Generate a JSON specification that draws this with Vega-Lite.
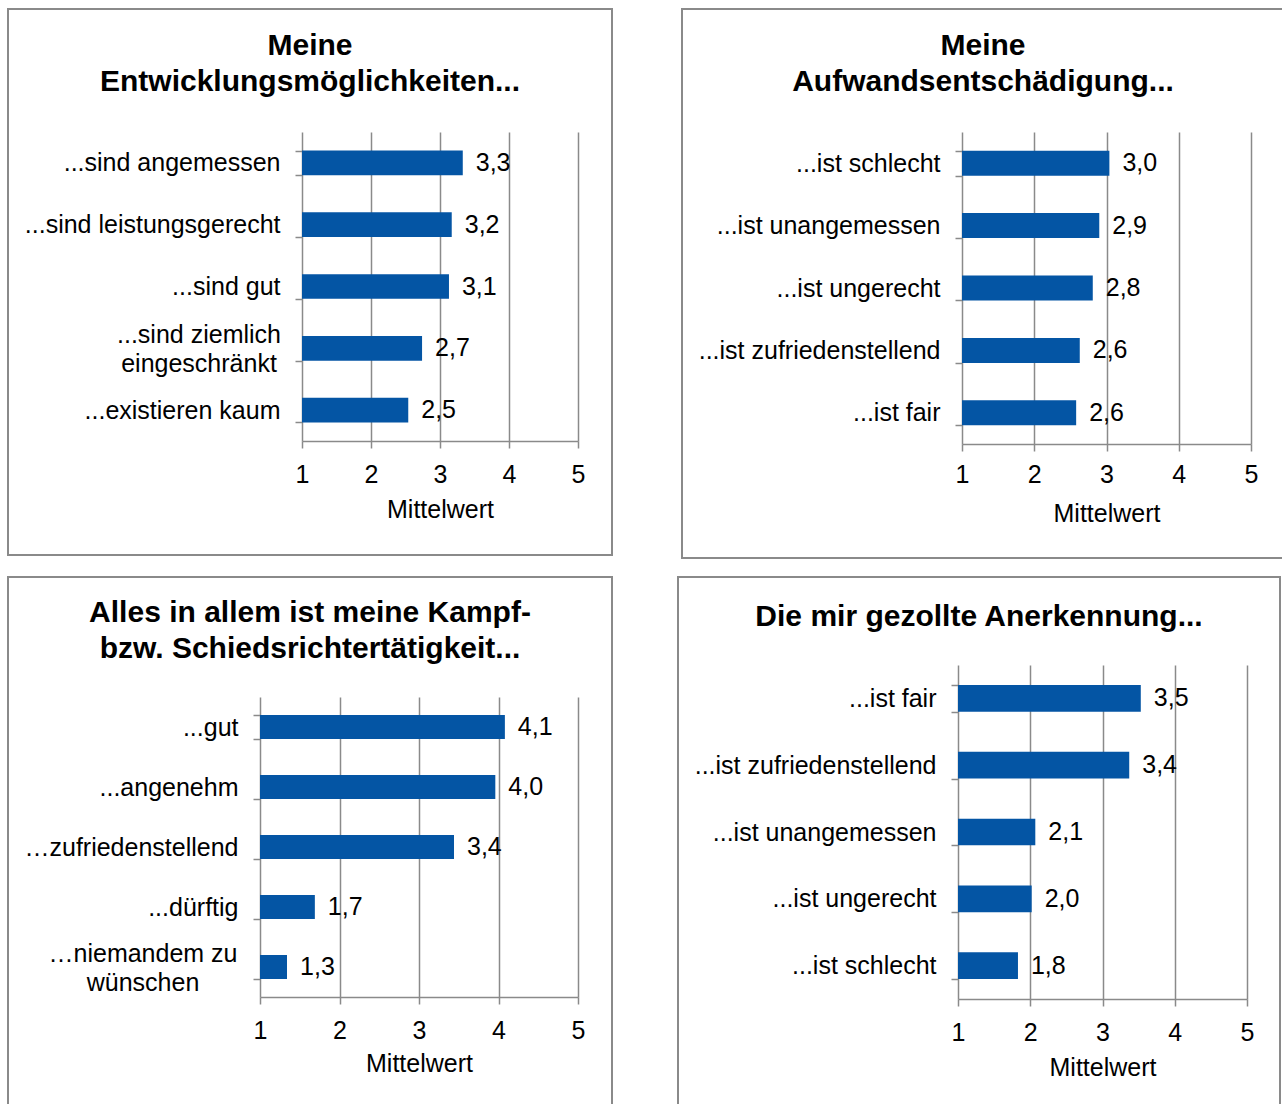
{
  "$schema": "https://vega.github.io/schema/vega-lite/v6.json",
  "padding": {"left": 7, "top": -4, "right": 0, "bottom": 0},
  "datasets": {
    "tl": [
      {"k": "...sind angemessen", "v": 3.33},
      {"k": "...sind leistungsgerecht", "v": 3.17},
      {"k": "...sind gut", "v": 3.13},
      {"k": "...sind ziemlich|eingeschränkt", "v": 2.74},
      {"k": "...existieren kaum", "v": 2.54}
    ],
    "tr": [
      {"k": "...ist schlecht", "v": 3.04},
      {"k": "...ist unangemessen", "v": 2.9},
      {"k": "...ist ungerecht", "v": 2.81},
      {"k": "...ist zufriedenstellend", "v": 2.63},
      {"k": "...ist fair", "v": 2.58}
    ],
    "bl": [
      {"k": "...gut", "v": 4.08},
      {"k": "...angenehm", "v": 3.96},
      {"k": "…zufriedenstellend", "v": 3.44},
      {"k": "...dürftig", "v": 1.69},
      {"k": "…niemandem zu|wünschen", "v": 1.34}
    ],
    "br": [
      {"k": "...ist fair", "v": 3.53},
      {"k": "...ist zufriedenstellend", "v": 3.37},
      {"k": "...ist unangemessen", "v": 2.07},
      {"k": "...ist ungerecht", "v": 2.02},
      {"k": "...ist schlecht", "v": 1.83}
    ]
  },
  "spacing": 5,
  "vconcat": [
    {
      "spacing": 68,
      "hconcat": [
        {
          "width": 604, "height": 546,
          "title": {"text": ["Meine", "Entwicklungsmöglichkeiten..."], "offset": -100},
          "data": {"name": "tl"},
          "encoding": {
            "y": {"field": "k", "type": "nominal", "sort": null,
              "scale": {"range": [123, 432], "paddingInner": 0.6, "paddingOuter": 0.3},
              "axis": {"title": null, "offset": -294, "tickBand": "extent", "labelLimit": 0,
                "labelExpr": "indexof(datum.label, '|') >= 0 ? '' : datum.label", "labelPadding": 15}}
          },
          "layer": [
            {"mark": "bar", "encoding": {
              "x": {"field": "v", "type": "quantitative",
                "scale": {"domain": [1, 5], "range": [294, 570], "nice": false, "zero": false},
                "axis": {"values": [1, 2, 3, 4, 5], "format": "d", "grid": false, "offset": -114, "labelPadding": 14, "labelFlush": false, "title": "Mittelwert", "titlePadding": 10}},
              "x2": {"datum": 1}}},
            {"mark": {"type": "text", "align": "left", "baseline": "middle", "dx": 13}, "encoding": {
              "x": {"field": "v", "type": "quantitative",
                "axis": {"orient": "top", "values": [2, 3, 4, 5], "grid": true, "labels": false, "ticks": false, "domain": false, "title": null}},
              "text": {"field": "v", "type": "quantitative", "format": ".1f"}}},
            {"transform": [{"filter": "indexof(datum.k, '|') >= 0"}],
             "mark": {"type": "text", "align": "center", "baseline": "line-bottom", "lineBreak": "|", "lineHeight": 29, "dx": -103, "dy": 2},
             "encoding": {"x": {"datum": 1, "type": "quantitative", "axis": null}, "text": {"field": "k", "type": "nominal"}}}
          ],
          "resolve": {"axis": {"x": "independent"}}
        },
        {
          "width": 602, "height": 549,
          "title": {"text": ["Meine", "Aufwandsentschädigung..."], "offset": -100},
          "data": {"name": "tr"},
          "encoding": {
            "y": {"field": "k", "type": "nominal", "sort": null,
              "scale": {"range": [123, 435], "paddingInner": 0.6, "paddingOuter": 0.3},
              "axis": {"title": null, "offset": -280, "tickBand": "extent", "labelLimit": 0, "labelPadding": 15}}
          },
          "layer": [
            {"mark": "bar", "encoding": {
              "x": {"field": "v", "type": "quantitative",
                "scale": {"domain": [1, 5], "range": [280, 569], "nice": false, "zero": false},
                "axis": {"values": [1, 2, 3, 4, 5], "format": "d", "grid": false, "offset": -114, "labelPadding": 11, "labelFlush": false, "title": "Mittelwert", "titlePadding": 14}},
              "x2": {"datum": 1}}},
            {"mark": {"type": "text", "align": "left", "baseline": "middle", "dx": 13}, "encoding": {
              "x": {"field": "v", "type": "quantitative",
                "axis": {"orient": "top", "values": [2, 3, 4, 5], "grid": true, "labels": false, "ticks": false, "domain": false, "title": null}},
              "text": {"field": "v", "type": "quantitative", "format": ".1f"}}}
          ],
          "resolve": {"axis": {"x": "independent"}}
        }
      ]
    },
    {
      "spacing": 64,
      "hconcat": [
        {
          "width": 604, "height": 529,
          "title": {"text": ["Alles in allem ist meine Kampf-", "bzw. Schiedsrichtertätigkeit..."], "offset": -99},
          "data": {"name": "bl"},
          "encoding": {
            "y": {"field": "k", "type": "nominal", "sort": null,
              "scale": {"range": [120, 420], "paddingInner": 0.6, "paddingOuter": 0.3},
              "axis": {"title": null, "offset": -252, "tickBand": "extent", "labelLimit": 0,
                "labelExpr": "indexof(datum.label, '|') >= 0 ? '' : datum.label", "labelPadding": 15}}
          },
          "layer": [
            {"mark": "bar", "encoding": {
              "x": {"field": "v", "type": "quantitative",
                "scale": {"domain": [1, 5], "range": [252, 570], "nice": false, "zero": false},
                "axis": {"values": [1, 2, 3, 4, 5], "format": "d", "grid": false, "offset": -109, "labelPadding": 14, "labelFlush": false, "title": "Mittelwert", "titlePadding": 8}},
              "x2": {"datum": 1}}},
            {"mark": {"type": "text", "align": "left", "baseline": "middle", "dx": 13}, "encoding": {
              "x": {"field": "v", "type": "quantitative",
                "axis": {"orient": "top", "values": [2, 3, 4, 5], "grid": true, "labels": false, "ticks": false, "domain": false, "title": null}},
              "text": {"field": "v", "type": "quantitative", "format": ".1f"}}},
            {"transform": [{"filter": "indexof(datum.k, '|') >= 0"}],
             "mark": {"type": "text", "align": "center", "baseline": "line-bottom", "lineBreak": "|", "lineHeight": 29, "dx": -117, "dy": 2},
             "encoding": {"x": {"datum": 1, "type": "quantitative", "axis": null}, "text": {"field": "k", "type": "nominal"}}}
          ],
          "resolve": {"axis": {"x": "independent"}}
        },
        {
          "width": 602, "height": 529,
          "title": {"text": "Die mir gezollte Anerkennung...", "offset": -67},
          "data": {"name": "br"},
          "encoding": {
            "y": {"field": "k", "type": "nominal", "sort": null,
              "scale": {"range": [88, 422], "paddingInner": 0.6, "paddingOuter": 0.3},
              "axis": {"title": null, "offset": -280, "tickBand": "extent", "labelLimit": 0, "labelPadding": 15}}
          },
          "layer": [
            {"mark": "bar", "encoding": {
              "x": {"field": "v", "type": "quantitative",
                "scale": {"domain": [1, 5], "range": [280, 569], "nice": false, "zero": false},
                "axis": {"values": [1, 2, 3, 4, 5], "format": "d", "grid": false, "offset": -107, "labelPadding": 14, "labelFlush": false, "title": "Mittelwert", "titlePadding": 10}},
              "x2": {"datum": 1}}},
            {"mark": {"type": "text", "align": "left", "baseline": "middle", "dx": 13}, "encoding": {
              "x": {"field": "v", "type": "quantitative",
                "axis": {"orient": "top", "values": [2, 3, 4, 5], "grid": true, "labels": false, "ticks": false, "domain": false, "title": null}},
              "text": {"field": "v", "type": "quantitative", "format": ".1f"}}}
          ],
          "resolve": {"axis": {"x": "independent"}}
        }
      ]
    }
  ],
  "config": {
    "view": {"stroke": "#8a8a8a", "strokeWidth": 2},
    "font": "Liberation Sans",
    "axis": {"labelFont": "Liberation Sans", "labelFontSize": 25, "labelColor": "#000000", "titleFont": "Liberation Sans", "titleFontSize": 25, "titleFontWeight": "normal", "titleColor": "#000000", "domainColor": "#8a8a8a", "domainWidth": 1.5, "tickColor": "#8a8a8a", "tickWidth": 1.5, "tickSize": 7, "gridColor": "#8a8a8a", "gridWidth": 1.5, "labelOverlap": false},
    "title": {"font": "Liberation Sans", "fontSize": 30, "fontWeight": "bold", "color": "#000000", "lineHeight": 36, "anchor": "middle", "frame": "group"},
    "text": {"font": "Liberation Sans", "fontSize": 25, "color": "#000000"},
    "bar": {"color": "#0455a4"},
    "locale": {"number": {"decimal": ",", "thousands": ".", "grouping": [3], "currency": ["", " €"]}}
  }
}
